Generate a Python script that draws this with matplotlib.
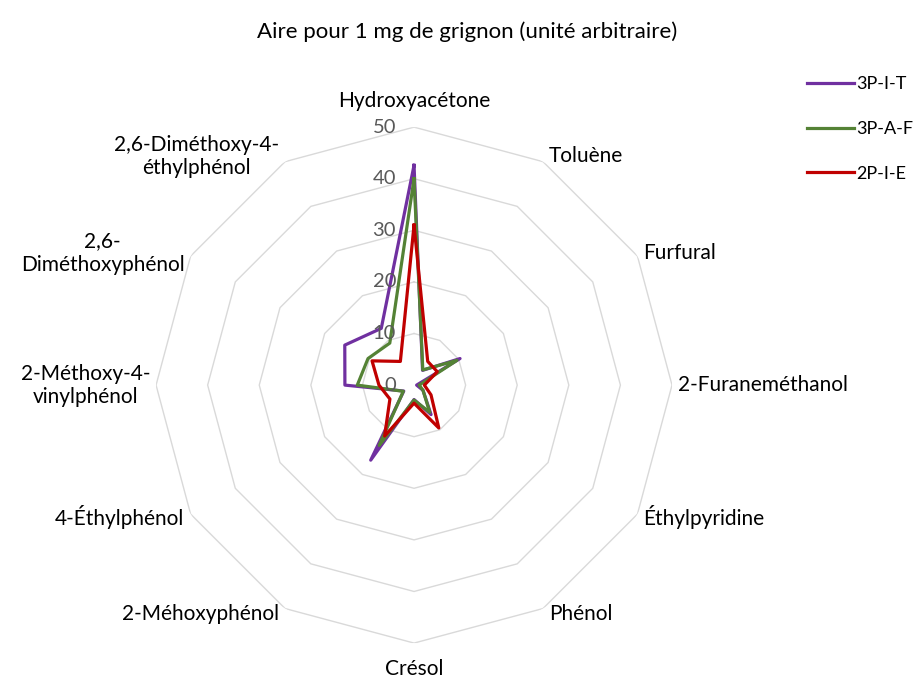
import numpy as np
import matplotlib
matplotlib.use("Agg")
import matplotlib.pyplot as plt

plt.rcParams['font.family'] = ['Lato', 'DejaVu Sans']

# données
categories = ["Hydroxyacétone", "Toluène", "Furfural", "2-Furaneméthanol",
              "Éthylpyridine", "Phénol", "Crésol", "2-Méhoxyphénol",
              "4-Éthylphénol", "2-Méthoxy-4-\nvinylphénol",
              "2,6-\nDiméthoxyphénol", "2,6-Diméthoxy-4-\néthylphénol"]
s_3PIT = [42.6, 3.3, 10.3, 0.5, 2.0, 6.6, 2.8, 16.8, 2.3, 13.4, 15.5, 12.7]
s_3PAF = [40.0, 3.4, 9.6, 1.0, 2.0, 6.1, 2.9, 13.5, 2.4, 11.0, 10.3, 9.4]
s_2PIE = [31.0, 5.3, 5.2, 2.0, 3.8, 9.6, 3.5, 11.4, 5.4, 6.8, 9.4, 5.3]
series_names = ["3P-I-T", "3P-A-F", "2P-I-E"]
colors = ["#7030A0", "#548235", "#C00000"]
ticks = [0, 10, 20, 30, 40, 50]

n = len(categories)
theta = np.arange(n) * 2 * np.pi / n
theta_c = np.append(theta, theta[0])

fig = plt.figure(figsize=(9.15, 6.78), dpi=100)
ax = fig.add_axes([0.1705, 0.0515, 0.564, 0.761], projection='polar')
ax.set_theta_zero_location('N')
ax.set_theta_direction(-1)
ax.set_ylim(0, 50)
ax.grid(False)
ax.spines['polar'].set_visible(False)
ax.set_xticks([])
ax.set_yticks([])

# grille polygonale
for t in ticks[1:]:
    ax.plot(theta_c, [t] * (n + 1), color='#D9D9D9', lw=1, zorder=1)

for vals, name, c in zip([s_3PIT, s_3PAF, s_2PIE], series_names, colors):
    v = np.append(vals, vals[0])
    ax.plot(theta_c, v, color=c, lw=2.3, label=name, zorder=3)

# étiquettes de l'axe radial
for t in ticks:
    ax.annotate(str(t), xy=(0, t), xytext=(-18, 0), textcoords='offset pixels',
                ha='right', va='center', fontsize=14.5, color='#595959', zorder=4)

# étiquettes des catégories
for ang, lab in zip(theta, categories):
    s, c = np.sin(ang), np.cos(ang)
    if abs(s) < 0.01:
        ha = 'center'
        dx = 0
        va = 'bottom' if c > 0 else 'top'
        dy = 16 if c > 0 else -16
    else:
        ha = 'left' if s > 0 else 'right'
        dx = 6 if s > 0 else -6
        va = 'center'
        dy = 6 * c
    ax.annotate(lab, xy=(ang, 50), xytext=(dx, dy), textcoords='offset pixels',
                ha=ha, va=va, fontsize=15, multialignment='center', color='black')

fig.text(0.51, 1 - 32 / 678, "Aire pour 1 mg de grignon (unité arbitraire)",
         ha='center', va='center', fontsize=16, color='black')

fig.legend(loc='upper left', bbox_to_anchor=(807 / 915, 1 - 76 / 678),
           frameon=False, fontsize=13, handlelength=2.6, handletextpad=0.1,
           labelspacing=1.6, borderaxespad=0, borderpad=0)

fig.savefig("out.png", dpi=100)
